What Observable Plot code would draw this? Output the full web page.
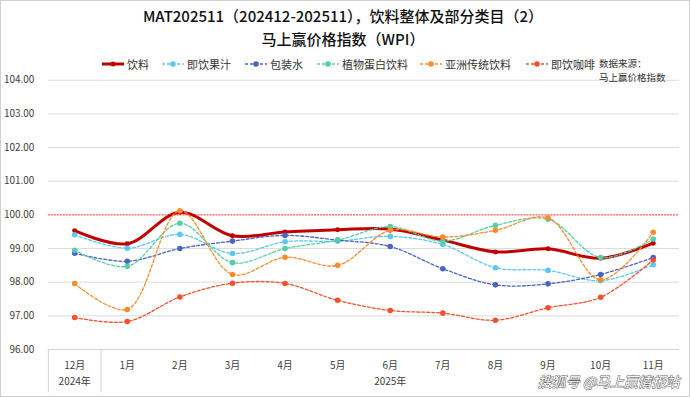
<!DOCTYPE html>
<html><head><meta charset="utf-8">
<script src="https://cdn.jsdelivr.net/npm/d3@7"></script>
<script src="https://cdn.jsdelivr.net/npm/@observablehq/plot@0.6"></script>
<style>
html,body{margin:0;padding:0;background:#fff;}
#wrap{position:relative;width:690px;height:397px;box-sizing:border-box;border:1px solid #d0d0d0;overflow:hidden;font-family:"Noto Sans CJK SC","Noto Sans",sans-serif;}
#title{position:absolute;left:0;width:684px;top:3px;text-align:center;font-size:15px;font-weight:500;color:#111;line-height:23px;}
.lg{position:absolute;top:55px;font-size:11px;color:#333;white-space:nowrap;display:flex;align-items:center;}
.lg svg{margin-right:2px;}
#src{position:absolute;left:598px;top:55px;font-size:9.5px;color:#333;line-height:14px;}
#chart{position:absolute;left:0;top:0;}
</style></head>
<body><div id="wrap">
<div id="chart"></div>
<div id="title">MAT202511（202412-202511），饮料整体及部分类目（2）<br>马上赢价格指数（WPI）</div>
<div id="legend"></div>
<div id="src">数据来源：<br>马上赢价格指数</div>
</div>
<script>
const months = ["12月","1月","2月","3月","4月","5月","6月","7月","8月","9月","10月","11月"];
const years = ["2024年","2025年"];
const yearCenters = [0, 6];
const yTicks = [96,97,98,99,100,101,102,103,104];
const seriesNames = ["饮料","即饮果汁","包装水","植物蛋白饮料","亚洲传统饮料","即饮咖啡"];
const yinliao   = [99.53,99.14,100.08,99.38,99.49,99.56,99.58,99.25,98.90,98.99,98.71,99.16];
const guozhi    = [99.41,99.01,99.42,98.85,99.20,99.22,99.36,99.12,98.43,98.35,98.04,98.52];
const baozhuang = [98.86,98.62,99.00,99.22,99.39,99.25,99.06,98.40,97.92,97.95,98.23,98.73];
const zhiwu     = [98.95,98.47,99.75,98.58,99.00,99.25,99.65,99.22,99.69,99.87,98.73,99.28];
const yazhou    = [97.96,97.19,100.12,98.23,98.74,98.50,99.54,99.34,99.54,99.91,98.07,99.48];
const kafei     = [96.95,96.83,97.56,97.97,97.96,97.46,97.16,97.08,96.87,97.24,97.55,98.66];
const seriesValues = [yinliao, guozhi, baozhuang, zhiwu, yazhou, kafei];
const colors = ["#C00000","#5BC8F2","#4A63C6","#55CFA5","#FA8B2C","#F2502E"];

const rows = seriesNames.map((s,k)=>seriesValues[k].map((v,i)=>({series:s, i, v})));

const marks = [
  Plot.ruleY(yTicks.filter(d=>d!==100 && d!==96), {stroke:"#dcdcdc", strokeWidth:1}),
  Plot.ruleY([96], {stroke:"#d0d0d0", strokeWidth:1}),
  Plot.ruleY([100], {stroke:"#ff2a2a", strokeWidth:1, strokeDasharray:"2,1"}),
  Plot.ruleX([-0.5, 0.5], {y1:96, y2:94.72, stroke:"#d0d0d0"}),
  Plot.axisY({ticks:yTicks, tickFormat:d=>d.toFixed(2), tickSize:0, tickPadding:14, fontSize:10, fill:"#404040", label:null}),
  Plot.axisX({ticks:d3.range(12), tickFormat:i=>months[i], tickSize:0, tickPadding:12, fontSize:10, fill:"#404040", label:null}),
  Plot.text(years, {x:(d,i)=>yearCenters[i], frameAnchor:"bottom", dy:36, text:d=>d, fontSize:10, fill:"#404040"})
];
rows.forEach((data,k)=>{
  const main = k===0;
  marks.push(Plot.line(data, {x:"i", y:"v", curve:"catmull-rom", stroke:colors[k],
    strokeWidth: main?3:1.3, strokeDasharray: main?null:"3,2"}));
  marks.push(Plot.dot(data, {x:"i", y:"v", r: main?2.5:2.8, fill:colors[k], stroke:"none"}));
});
marks.push(Plot.text(["搜狐号 @马上赢情报站"], {frameAnchor:"bottom-right", dx:0, dy:38, text:d=>d, textAnchor:"end",
  fontSize:14, fontStyle:"italic", fill:"#ffffff", stroke:"#6a6a6a", strokeWidth:1.1, paintOrder:"stroke"}));

const chart = Plot.plot({
  width:690, height:397, marginTop:79, marginBottom:48, marginLeft:47, marginRight:10,
  x:{type:"linear", domain:[-0.5,11.5], axis:null},
  y:{domain:[96,104], axis:null},
  style:{fontFamily:'"Noto Sans CJK SC","Noto Sans",sans-serif', background:"transparent", overflow:"visible"},
  marks
});
document.getElementById("chart").appendChild(chart);

const legendX = [100,160,243,315,418,524];
const lg = document.getElementById("legend");
seriesNames.forEach((s,k)=>{
  const main = k===0;
  const div = document.createElement("div");
  div.className="lg"; div.style.left=legendX[k]+"px";
  div.innerHTML = `<svg width="24" height="14"><line x1="1" x2="23" y1="7" y2="7" stroke="${colors[k]}" stroke-width="${main?3:1.3}" ${main?"":'stroke-dasharray="3,2"'}/><circle cx="12" cy="7" r="${main?2.5:2.8}" fill="${colors[k]}"/></svg>${s}`;
  lg.appendChild(div);
});
</script>
</body></html>
